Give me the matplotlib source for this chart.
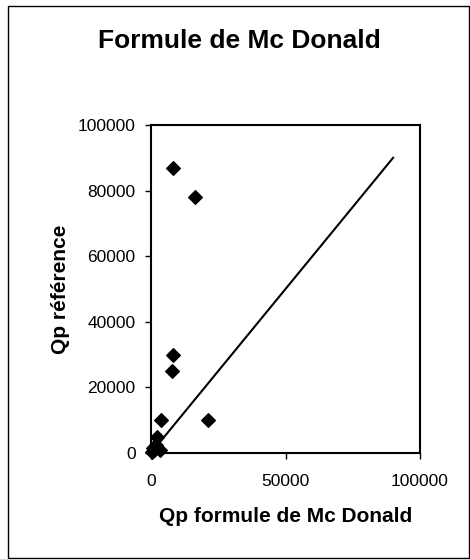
import matplotlib.pyplot as plt
from matplotlib.patches import Rectangle

# Qp formule de Mc Donald (x) / Qp référence (y)
qp_formule = [8150, 16300, 8150, 7800, 3800, 21300, 2200, 300, 1200, 2000, 3300, 800]
qp_reference = [87000, 78000, 30000, 25000, 10000, 10000, 4800, 200, 800, 2500, 800, 1500]

# droite y = x
ligne_x = [0, 90000]
ligne_y = [0, 90000]

x_ticks = [0, 50000, 100000]
y_ticks = [0, 20000, 40000, 60000, 80000, 100000]

plt.rcParams['font.family'] = ['Liberation Sans', 'DejaVu Sans']

fig = plt.figure(figsize=(4.7, 5.59), dpi=100)
ax = fig.add_axes([151 / 470, 1 - 453 / 559, 269 / 470, 328 / 559])

# cadre extérieur du graphique
fig.patches.append(Rectangle((8 / 470, 1 / 559), 460.5 / 470, 552 / 559,
                             transform=fig.transFigure, fill=False,
                             edgecolor='black', linewidth=1.0))

ax.plot(ligne_x, ligne_y, color='black', linewidth=1.5)
ax.scatter(qp_formule, qp_reference, marker='D', s=48, color='black',
           zorder=3, clip_on=False)

ax.set_xlim(0, 100000)
ax.set_ylim(0, 100000)
ax.set_xticks(x_ticks)
ax.set_yticks(y_ticks)
ax.tick_params(direction='out', length=4, width=1, labelsize=12.5)
ax.tick_params(axis='x', pad=11)
ax.tick_params(axis='y', pad=7)
for sp in ax.spines.values():
    sp.set_linewidth(1.5)

ax.set_xlabel('Qp formule de Mc Donald', fontsize=15, fontweight='bold', labelpad=13)
ax.set_ylabel('Qp référence', fontsize=15, fontweight='bold', labelpad=6)
fig.text(239 / 470, 1 - 41 / 559, 'Formule de Mc Donald', fontsize=19,
         fontweight='bold', ha='center', va='center')

fig.savefig('out.png', dpi=100)
